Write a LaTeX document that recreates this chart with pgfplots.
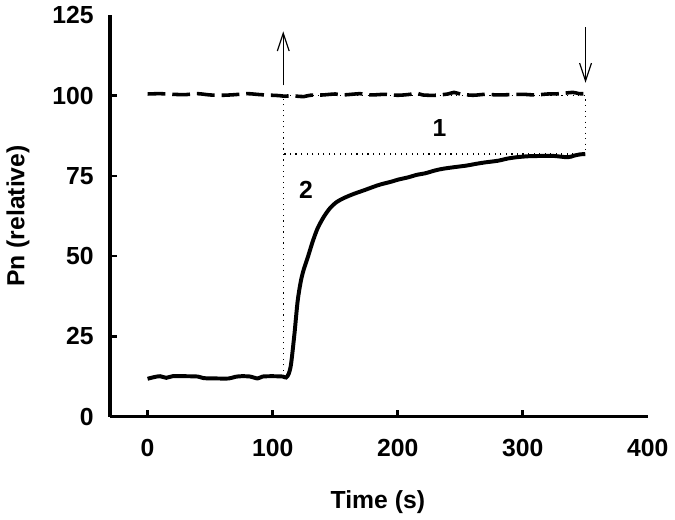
\documentclass[border=0pt]{standalone}
\usepackage{fontspec}
\setmainfont{Liberation Sans}
\usepackage{pgfplots}
\pgfplotsset{compat=1.18}
\usetikzlibrary{arrows.meta}

\begin{document}
\begin{tikzpicture}
\begin{axis}[
    scale only axis, width=272pt, height=203pt,
    xmin=-30, xmax=400, ymin=0, ymax=125,
    xtick={0,100,200,300}, ytick={0,25,50,75,100},
    extra x ticks={400}, extra y ticks={125},
    extra tick style={major tick length=0pt},
    axis lines*=left, axis line style={line width=1.7pt, -},
    tick align=inside, major tick length=3.5pt,
    every tick/.style={black, line width=1.3pt},
    /pgf/number format/assume math mode=true,
    ticklabel style={font=\fontsize{12.5}{14}\selectfont\bfseries},
    yticklabel style={xshift=-4.8pt},
    xticklabel style={yshift=-7.8pt},
    label style={font=\fontsize{12.5}{14}\selectfont\bfseries},
    xlabel={Time (s)}, ylabel={Pn (relative)},
    xlabel style={at={(axis description cs:0.498,-0.212)}, anchor=center},
    ylabel style={at={(axis description cs:-0.171,0.5)}, anchor=center},
    clip=false,
]
% dotted guide lines
\addplot[black, line width=0.6pt, dash pattern=on 0.6pt off 2.2pt] coordinates {(108.5,12.5)(108.5,100)(350,100)(350,81.8)(108.5,81.8)};
% arrows
\addplot[black, line width=0.6pt, -{Straight Barb[length=9pt,width=6pt]}] coordinates {(108.5,103.2)(108.5,120)};
\addplot[black, line width=0.6pt, -{Straight Barb[length=9pt,width=6pt]}] coordinates {(350.2,121.3)(350.2,104)};
% dashed series
\addplot[black, line width=1.8pt, dash pattern=on 9pt off 3.5pt, smooth] coordinates {
(0,100.5)(10,100.6)(20,100.4)(30,100.3)(40,100.6)(50,100.2)(60,100.1)(70,100.3)
(80,100.6)(90,100.3)(100,100.1)(105,100.0)(110,99.8)(115,100.0)(120,99.8)(125,99.7)
(130,100.1)(140,100.2)(150,100.5)(155,100.2)(160,100.3)(170,100.6)(175,100.3)(180,100.2)
(190,100.4)(200,100.1)(210,100.4)(215,100.8)(220,100.2)(230,100.1)(240,100.5)(245,101.0)
(250,100.5)(260,100.1)(270,100.4)(280,100.2)(290,100.3)(300,100.4)(310,100.2)(320,100.5)
(330,100.6)(340,101.0)(345,100.6)(350,100.6)
};
% solid series
\addplot[black, line width=2pt, smooth] coordinates {
(0,11.8)(5,12.3)(10,12.6)(15,12.1)(20,12.6)(30,12.6)(40,12.5)(45,12.0)(55,11.9)
(65,11.9)(70,12.4)(75,12.6)(82,12.5)(88,11.9)(92,12.5)(100,12.6)(108,12.5)(110.8,12.2)
(113,13.5)(114.8,16.6)(117.5,26)(120,36)(122.6,42.3)(125,46)(128,49.5)(132,54.5)
(136,58.7)(141,62.3)(146,65)(151,66.8)(157,68.1)(165,69.4)(173,70.5)(180,71.5)
(186,72.3)(195,73.2)(200,73.8)(209,74.6)(215,75.3)(222,75.8)(230,76.7)(236,77.2)
(245,77.7)(255,78.2)(262,78.7)(270,79.2)(280,79.7)(288,80.4)(295,80.8)(304,81.1)
(315,81.2)(325,81.2)(336,80.8)(341,81.3)(346,81.7)(350,81.8)
};
\node[font=\fontsize{12.5}{14}\selectfont\bfseries] at (axis cs:233.4,90) {1};
\node[font=\fontsize{12.5}{14}\selectfont\bfseries] at (axis cs:126.7,70.5) {2};
\end{axis}
\end{tikzpicture}
\end{document}
